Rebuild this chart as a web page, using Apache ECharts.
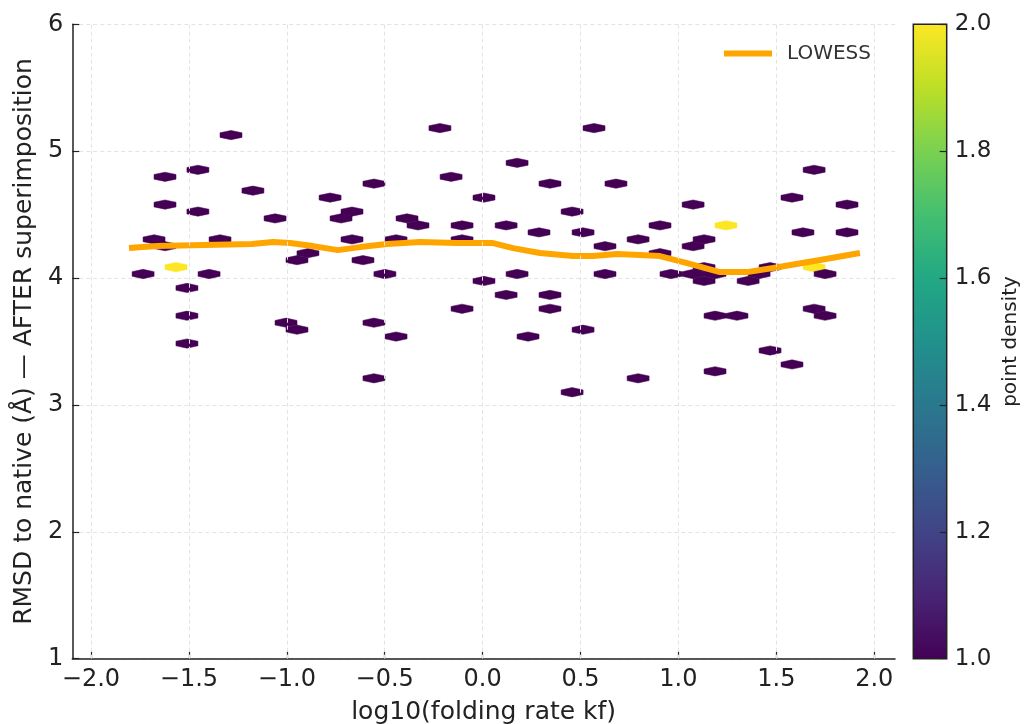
<!DOCTYPE html>
<html>
<head>
<meta charset="utf-8">
<script src="https://cdn.jsdelivr.net/npm/echarts@6/dist/echarts.min.js"></script>
<style>html,body{margin:0;padding:0;background:#fff}#c{width:1025px;height:724px}</style>
</head>
<body>
<div id="c"></div>
<script>
// ---- data ----
const hexX = [-1.285, -1.622, -1.454, -1.622, -1.454, -1.173, -1.060, -0.779, -0.667, -0.723,
  -1.678, -1.622, -1.341, -0.667, -1.566, -1.734, -1.397, -1.510, -1.510, -1.510,
  -0.948, -0.892, -1.004, -0.948, -0.611, -0.218, 0.569, -0.555, -0.161, 0.176,
  0.344, 0.681, 0.007, -0.386, -0.330, -0.105, 0.120, 0.457, 0.288, 0.513,
  -0.442, -0.105, 0.794, 0.625, -0.499, 0.007, 0.176, 0.625, 0.120, 0.344,
  -0.105, 0.344, -0.555, -0.442, 0.232, 0.513, -0.555, 0.457, 0.794, 1.693,
  1.075, 1.580, 1.861, 0.906, 1.243, 1.131, 1.075, 1.636, 1.861, 0.906,
  1.131, 1.468, 1.693, 0.962, 1.075, 1.187, 1.131, 1.356, 1.412, 1.749,
  1.187, 1.299, 1.693, 1.749, 1.468, 1.580, 1.187];
const hexY = [5.127, 4.798, 4.853, 4.579, 4.524, 4.689, 4.470, 4.634, 4.524, 4.470,
  4.305, 4.251, 4.305, 4.305, 4.086, 4.032, 4.032, 3.922, 3.703, 3.484,
  4.141, 4.196, 3.648, 3.593, 4.141, 5.182, 5.182, 4.744, 4.798, 4.908,
  4.744, 4.744, 4.634, 4.470, 4.415, 4.415, 4.415, 4.524, 4.360, 4.360,
  4.305, 4.305, 4.305, 4.251, 4.032, 3.977, 4.032, 4.032, 3.867, 3.867,
  3.758, 3.758, 3.648, 3.539, 3.539, 3.593, 3.210, 3.100, 3.210, 4.853,
  4.579, 4.634, 4.579, 4.415, 4.415, 4.305, 4.251, 4.360, 4.360, 4.196,
  4.086, 4.086, 4.086, 4.032, 4.032, 4.032, 3.977, 3.977, 4.032, 4.032,
  3.703, 3.703, 3.758, 3.703, 3.429, 3.319, 3.265];
const hexCount = [1, 1, 1, 1, 1, 1, 1, 1, 1, 1,
  1, 1, 1, 1, 2, 1, 1, 1, 1, 1,
  1, 1, 1, 1, 1, 1, 1, 1, 1, 1,
  1, 1, 1, 1, 1, 1, 1, 1, 1, 1,
  1, 1, 1, 1, 1, 1, 1, 1, 1, 1,
  1, 1, 1, 1, 1, 1, 1, 1, 1, 1,
  1, 1, 1, 1, 2, 1, 1, 1, 1, 1,
  1, 1, 2, 1, 1, 1, 1, 1, 1, 1,
  1, 1, 1, 1, 1, 1, 1];
const lowessX = [-1.806, -1.663, -1.178, -1.070, -0.984, -0.866, -0.739, -0.626, -0.488, -0.320,
  -0.131, -0.013, 0.053, 0.155, 0.293, 0.462, 0.564, 0.686, 0.804, 0.906,
  1.044, 1.212, 1.350, 1.483, 1.723, 1.927];
const lowessY = [4.236, 4.252, 4.268, 4.284, 4.276, 4.252, 4.220, 4.244, 4.268, 4.284,
  4.276, 4.276, 4.276, 4.236, 4.197, 4.173, 4.173, 4.189, 4.181, 4.173,
  4.118, 4.047, 4.047, 4.079, 4.142, 4.197];
const xTicks = [-2.0, -1.5, -1.0, -0.5, 0.0, 0.5, 1.0, 1.5, 2.0];
const yTicks = [1, 2, 3, 4, 5, 6];
const cbarTicks = [1.0, 1.2, 1.4, 1.6, 1.8, 2.0];

// ---- layout / style constants ----
const HEX_W = 0.1124, HEX_H = 0.1095;
const FONT = 'DejaVu Sans';
const viridis = ['#440154', '#482475', '#414487', '#355f8d', '#2a788e', '#21918c', '#22a884', '#44bf70', '#7ad151', '#bddf26', '#fde725'];
const gridColor = '#e3e3e3';
const ink = '#222';

const hexData = hexX.map((x, i) => [x, hexY[i], hexCount[i]]);
const lowessData = lowessX.map((x, i) => [x, lowessY[i]]);
const fmtSigned = v => (v < 0 ? '\u2212' + Math.abs(v).toFixed(1) : v.toFixed(1));

const chart = echarts.init(document.getElementById('c'), null, {renderer: 'canvas'});
chart.setOption({
  animation: false,
  backgroundColor: '#fff',
  textStyle: {fontFamily: FONT},
  grid: [
    {left: 72.3, top: 24.3, width: 822.7, height: 634.4, outerBoundsMode: 'none', containLabel: false},
    {left: 913.3, top: 24.3, width: 33.4, height: 634.4, outerBoundsMode: 'none', containLabel: false}
  ],
  legend: {
    left: 724, top: 43.5, padding: 0,
    icon: 'rect', itemWidth: 48, itemHeight: 6,
    data: ['LOWESS'],
    textStyle: {fontSize: 20, color: '#333', fontFamily: FONT, padding: [0, 0, 0, 10]}
  },
  visualMap: {
    type: 'continuous', show: false, min: 1, max: 2, dimension: 2, seriesIndex: [1],
    inRange: {color: viridis}
  },
  xAxis: [{
    type: 'value', gridIndex: 0, min: -2.0955, max: 2.106,
    name: 'log10(folding rate kf)', nameLocation: 'middle', nameGap: 41,
    nameTextStyle: {fontSize: 25, color: ink, fontFamily: FONT},
    axisLine: {show: true, onZero: false, lineStyle: {color: ink, width: 1.5}},
    axisTick: {show: true, inside: true, length: 7, customValues: xTicks, lineStyle: {color: ink, width: 1.2}},
    axisLabel: {customValues: xTicks, formatter: fmtSigned, fontSize: 24, color: ink, margin: 9, fontFamily: FONT},
    splitLine: {show: false}
  }, {
    type: 'value', gridIndex: 1, min: 0, max: 1, show: false
  }],
  yAxis: [{
    type: 'value', gridIndex: 0, min: 1, max: 6, interval: 1,
    name: 'RMSD to native (\u00C5) \u2014 AFTER superimposition', nameLocation: 'middle', nameGap: 33, nameRotate: 90,
    nameTextStyle: {fontSize: 25, color: ink, fontFamily: FONT},
    axisLine: {show: true, onZero: false, lineStyle: {color: ink, width: 1.5}},
    axisTick: {show: true, inside: true, length: 7, lineStyle: {color: ink, width: 1.2}},
    axisLabel: {formatter: v => String(v), fontSize: 24, color: ink, margin: 9, fontFamily: FONT},
    splitLine: {show: true, lineStyle: {color: gridColor, type: [4, 3], width: 1}}
  }, {
    type: 'value', gridIndex: 1, min: 1, max: 2, interval: 0.2, position: 'right', z: 10,
    name: 'point density', nameLocation: 'middle', nameGap: 54, nameRotate: 90,
    nameTextStyle: {fontSize: 20, color: ink, fontFamily: FONT},
    axisLine: {show: false, onZero: false},
    axisTick: {show: true, inside: true, length: 7, lineStyle: {color: ink, width: 1.2}},
    axisLabel: {formatter: v => v.toFixed(1), fontSize: 23, color: ink, margin: 8, fontFamily: FONT},
    splitLine: {show: false}
  }],
  series: [
    {
      type: 'line', xAxisIndex: 0, yAxisIndex: 0, data: [], silent: true, z: 1,
      markLine: {
        silent: true, symbol: ['none', 'none'], label: {show: false},
        lineStyle: {color: gridColor, type: [4, 3], width: 1},
        emphasis: {disabled: true},
        data: xTicks.map(v => ({xAxis: v}))
      }
    },
    {
      type: 'custom', xAxisIndex: 0, yAxisIndex: 0, z: 2,
      encode: {x: 0, y: 1},
      data: hexData,
      renderItem: (params, api) => {
        const c = api.coord([api.value(0), api.value(1)]);
        const s = api.size([HEX_W, HEX_H]);
        const w = s[0], h = s[1];
        const pts = [
          [c[0] + w / 2, c[1] - h / 6], [c[0] + w / 2, c[1] + h / 6], [c[0], c[1] + h / 3],
          [c[0] - w / 2, c[1] + h / 6], [c[0] - w / 2, c[1] - h / 6], [c[0], c[1] - h / 3]
        ];
        const col = api.visual('color');
        return {type: 'polygon', shape: {points: pts}, style: {fill: col, stroke: col, lineWidth: 0.5}};
      }
    },
    {
      name: 'LOWESS', type: 'line', xAxisIndex: 0, yAxisIndex: 0, z: 3,
      data: lowessData, symbol: 'none', showSymbol: false, smooth: false,
      lineStyle: {color: '#FFA500', width: 6}, itemStyle: {color: '#FFA500'}
    },
    {
      type: 'custom', xAxisIndex: 1, yAxisIndex: 1, z: 2,
      data: [[0, 1]],
      renderItem: (params, api) => {
        const p0 = api.coord([0, 2]);
        const p1 = api.coord([1, 1]);
        const stops = viridis.map((c, i) => ({offset: i / (viridis.length - 1), color: c}));
        return {
          type: 'rect',
          shape: {x: p0[0], y: p0[1], width: p1[0] - p0[0], height: p1[1] - p0[1]},
          style: {fill: new echarts.graphic.LinearGradient(0, 1, 0, 0, stops), stroke: ink, lineWidth: 1.5}
        };
      }
    }
  ]
});
</script>
</body>
</html>
